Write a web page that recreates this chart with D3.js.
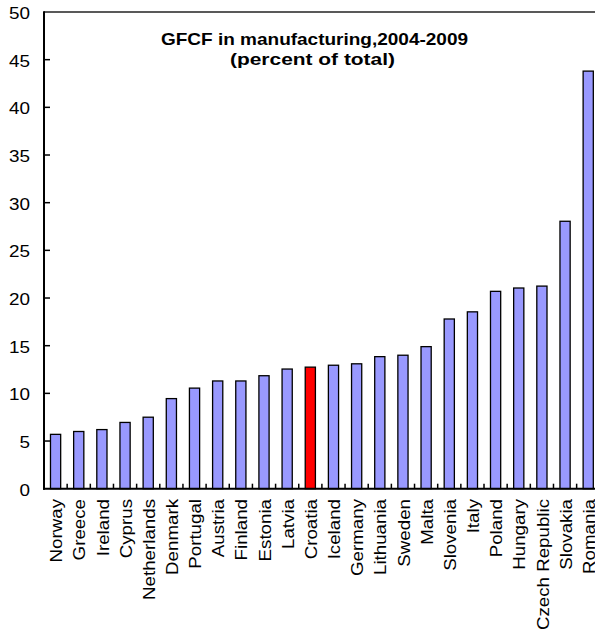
<!DOCTYPE html>
<html>
<head>
<meta charset="utf-8">
<script src="https://cdn.jsdelivr.net/npm/d3@7"></script>
<style>
  html, body { margin: 0; padding: 0; background: #fff; }
  svg { display: block; }
  text { font-family: Arial, "Liberation Sans", sans-serif; fill: #000; }
</style>
</head>
<body>
<svg id="chart" width="595" height="637"></svg>
<script>
const countries = ["Norway","Greece","Ireland","Cyprus","Netherlands","Denmark","Portugal","Austria","Finland","Estonia","Latvia","Croatia","Iceland","Germany","Lithuania","Sweden","Malta","Slovenia","Italy","Poland","Hungary","Czech Republic","Slovakia","Romania"];
const values = [5.7,6.0,6.2,6.95,7.5,9.45,10.55,11.3,11.3,11.85,12.55,12.75,12.95,13.1,13.85,14.0,14.9,17.8,18.55,20.7,21.05,21.25,28.05,43.8];
const highlight = ["Croatia"];
const yTicks = [0,5,10,15,20,25,30,35,40,45,50];
const titleLines = ["GFCF in manufacturing,2004-2009", "(percent of total)"];

const svg = d3.select("#chart");
const mLeft = 44, mRight = 599.8, mTop = 12, mBottom = 488.7;

const x = d3.scaleBand().domain(countries).range([mLeft, mRight]).padding(0);
const y = d3.scaleLinear().domain([0, 50]).range([mBottom, mTop]);
const stretch = 1.18;

// top border
svg.append("line").attr("x1", mLeft).attr("x2", 595).attr("y1", y(50)).attr("y2", y(50))
  .attr("stroke", "#222").attr("stroke-width", 1.4);

// bars
const bw = x.bandwidth() * 0.44;
svg.append("g").selectAll("rect").data(countries).join("rect")
  .attr("x", d => x(d) + x.bandwidth()/2 - bw/2)
  .attr("y", (d,i) => y(values[i]))
  .attr("width", bw)
  .attr("height", (d,i) => y(0) - y(values[i]))
  .attr("fill", d => highlight.includes(d) ? "#FF0000" : "#9999FF")
  .attr("stroke", "#000")
  .attr("stroke-width", 1.3);

// y axis
const yAxis = svg.append("g");
yAxis.append("line").attr("x1", mLeft).attr("x2", mLeft).attr("y1", y(50) - 0.7).attr("y2", y(0) + 1)
  .attr("stroke", "#000").attr("stroke-width", 2);
yAxis.selectAll("line.tick").data(yTicks.filter(t => t > 0 && t < 50)).join("line")
  .attr("class", "tick")
  .attr("x1", mLeft).attr("x2", mLeft + 6)
  .attr("y1", d => y(d)).attr("y2", d => y(d))
  .attr("stroke", "#000").attr("stroke-width", 1.5);
yAxis.selectAll("text").data(yTicks).join("text")
  .attr("transform", d => `translate(30,${y(d) + 1.5}) scale(${stretch},1)`)
  .attr("text-anchor", "end")
  .attr("dy", "0.35em")
  .attr("font-size", 16)
  .text(d => d);

// x axis
const xAxis = svg.append("g");
xAxis.append("line").attr("x1", mLeft - 1).attr("x2", 595).attr("y1", y(0)).attr("y2", y(0))
  .attr("stroke", "#000").attr("stroke-width", 2);
xAxis.selectAll("line.tick").data(countries.slice(1)).join("line")
  .attr("class", "tick")
  .attr("x1", d => x(d)).attr("x2", d => x(d))
  .attr("y1", y(0)).attr("y2", y(0) - 5)
  .attr("stroke", "#000").attr("stroke-width", 1.5);
xAxis.selectAll("text").data(countries).join("text")
  .attr("transform", d => `translate(${x(d) + x.bandwidth()/2 + 1},499) rotate(-90) scale(1.17,1)`)
  .attr("text-anchor", "end")
  .attr("dy", "0.35em")
  .attr("font-size", 16)
  .text(d => d);

// title
svg.append("text").attr("x", 314.5).attr("y", 45)
  .attr("text-anchor", "middle").attr("font-weight", "bold").attr("font-size", 17)
  .attr("textLength", 307).attr("lengthAdjust", "spacingAndGlyphs")
  .text(titleLines[0]);
svg.append("text").attr("x", 312.5).attr("y", 65)
  .attr("text-anchor", "middle").attr("font-weight", "bold").attr("font-size", 17)
  .attr("textLength", 165).attr("lengthAdjust", "spacingAndGlyphs")
  .text(titleLines[1]);
</script>
</body>
</html>
